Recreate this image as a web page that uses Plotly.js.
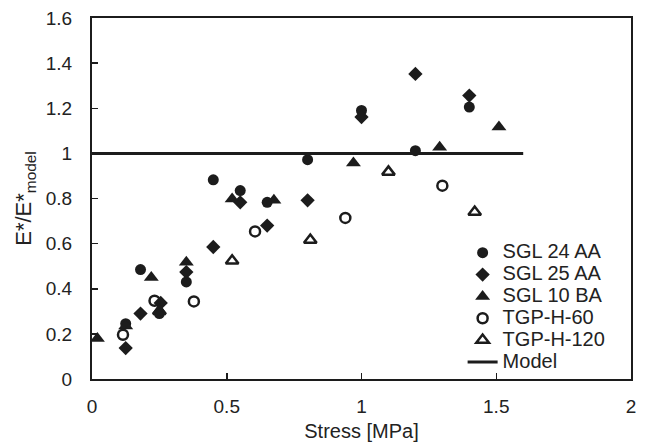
<!DOCTYPE html>
<html>
<head>
<meta charset="utf-8">
<script src="https://cdn.plot.ly/plotly-3.0.1.min.js"></script>
<style>
  html, body { margin: 0; padding: 0; background: #ffffff; }
  #chart { width: 653px; height: 443px; }
</style>
</head>
<body>
<div id="chart"></div>
<script>
// Stiffness ratio E*/E*model versus applied stress for each material
var sgl24Stress = [0.125, 0.18, 0.25, 0.35, 0.45, 0.55, 0.65, 0.8, 1.0, 1.2, 1.4];
var sgl24Ratio  = [0.245, 0.485, 0.29, 0.43, 0.883, 0.835, 0.783, 0.972, 1.19, 1.012, 1.205];

var sgl25Stress = [0.125, 0.18, 0.255, 0.35, 0.45, 0.55, 0.65, 0.8, 1.0, 1.2, 1.4];
var sgl25Ratio  = [0.137, 0.29, 0.337, 0.474, 0.585, 0.783, 0.68, 0.792, 1.161, 1.352, 1.256];

var sgl10Stress = [0.02, 0.125, 0.22, 0.25, 0.35, 0.52, 0.675, 0.97, 1.29, 1.51];
var sgl10Ratio  = [0.18, 0.235, 0.45, 0.305, 0.517, 0.798, 0.792, 0.957, 1.027, 1.117];

var tgp60Stress = [0.115, 0.232, 0.378, 0.605, 0.94, 1.3];
var tgp60Ratio  = [0.196, 0.347, 0.344, 0.654, 0.714, 0.857];

var tgp120Stress = [0.25, 0.52, 0.81, 1.1, 1.42];
var tgp120Ratio  = [0.30, 0.524, 0.616, 0.918, 0.74];

var modelStress = [0, 1.6];
var modelRatio  = [1, 1];

var seriesNames = ['SGL 24 AA', 'SGL 25 AA', 'SGL 10 BA', 'TGP-H-60', 'TGP-H-120', 'Model'];

var ink = '#1c1c1c';
var FONT = 'Liberation Sans, Arial, Helvetica, sans-serif';

// legend entries are set larger than the legend's own row spacing font
function label(name) {
  return '<span style="font-size:20px">' + name + '</span>';
}

function points(x, y, name, symbol, size, open) {
  return {
    type: 'scatter', mode: 'markers', x: x, y: y, name: label(name),
    cliponaxis: false,
    marker: {
      symbol: symbol, size: size, color: ink,
      line: { color: ink, width: open ? 2.5 : 0 }
    }
  };
}

var traces = [
  points(sgl24Stress, sgl24Ratio, seriesNames[0], 'circle', 11, false),
  points(sgl25Stress, sgl25Ratio, seriesNames[1], 'diamond', 11, false),
  points(sgl10Stress, sgl10Ratio, seriesNames[2], 'triangle-up', 13, false),
  points(tgp60Stress, tgp60Ratio, seriesNames[3], 'circle-open', 10, true),
  points(tgp120Stress, tgp120Ratio, seriesNames[4], 'triangle-up-open', 11, true),
  {
    type: 'scatter', mode: 'lines', x: modelStress, y: modelRatio,
    name: label(seriesNames[5]),
    line: { color: ink, width: 3 }
  }
];

var axisCommon = {
  showgrid: false, zeroline: false,
  showline: true, linecolor: ink, linewidth: 2, mirror: true,
  ticks: 'inside', ticklen: 6, tickwidth: 1.5, tickcolor: ink,
  tickfont: { family: FONT, size: 19, color: '#222222' }
};

var layout = {
  width: 653, height: 443,
  paper_bgcolor: '#ffffff', plot_bgcolor: '#ffffff',
  margin: { l: 92, r: 22, t: 18, b: 64 },
  font: { family: FONT, color: '#222222' },
  showlegend: true,
  legend: {
    x: 0.6876, y: 0.394, xanchor: 'left', yanchor: 'top',
    bgcolor: 'rgba(0,0,0,0)', borderwidth: 0,
    font: { family: FONT, size: 14.5, color: '#222222' }
  },
  xaxis: Object.assign({}, axisCommon, {
    range: [0, 2], tick0: 0, dtick: 0.5,
    ticklabelstandoff: 9,
    title: { text: 'Stress [MPa]', font: { family: FONT, size: 20, color: '#222222' }, standoff: 8 }
  }),
  yaxis: Object.assign({}, axisCommon, {
    range: [0, 1.6], tick0: 0, dtick: 0.2,
    ticklabelstandoff: 14,
    title: { text: 'E*/E*<sub>model</sub>', font: { family: FONT, size: 22, color: '#222222' }, standoff: 8 }
  })
};

Plotly.newPlot('chart', traces, layout, { displayModeBar: false, staticPlot: true });
</script>
</body>
</html>
